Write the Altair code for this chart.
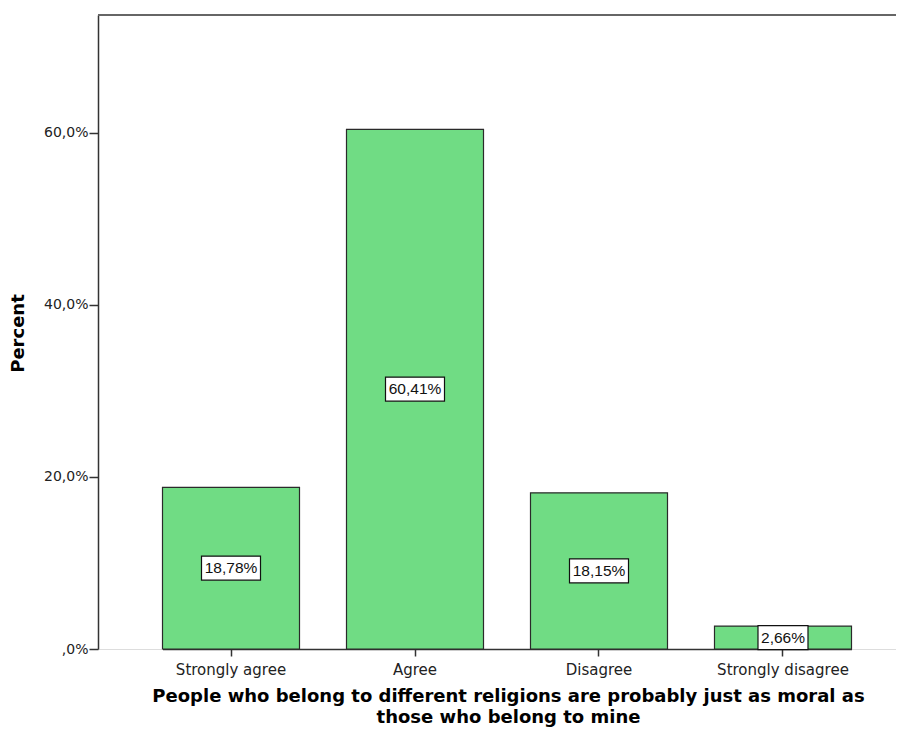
import altair as alt
import pandas as pd

categories = ["Strongly agree", "Agree", "Disagree", "Strongly disagree"]
values = [18.78, 60.41, 18.15, 2.66]
labels = ["18,78%", "60,41%", "18,15%", "2,66%"]
y_ticks = [0, 20, 40, 60]

df = pd.DataFrame({"cat": categories, "val": values, "lab": labels})

FONT = "DejaVu Sans"
W, H = 798, 634

x_enc = alt.X(
    "cat:N",
    sort=categories,
    scale=alt.Scale(range=[64.5, 753.5], paddingInner=0.2554, paddingOuter=0),
    axis=alt.Axis(
        title=["People who belong to different religions are probably just as moral as",
               "those who belong to mine"],
        titleFont=FONT, titleFontSize=18, titleFontWeight="bold", titleColor="#000",
        titleX=410, titleY=52, titleBaseline="alphabetic", titleLineHeight=21,
        titleAlign="center",
        labelFont=FONT, labelFontSize=15, labelColor="#222", labelAngle=0,
        labelPadding=6, tickSize=7, tickColor="#333", domainColor="#333",
        domainWidth=1.5, tickWidth=1.5, labelBaseline="top",
    ),
)

y_scale = alt.Scale(domain=[0, 73.7], nice=False, zero=True)

bars = alt.Chart(df).mark_bar(fill="#70DC84", stroke="#2a2a2a", strokeWidth=1.2).encode(
    x=x_enc,
    y=alt.Y(
        "val:Q",
        scale=y_scale,
        axis=alt.Axis(
            values=y_ticks,
            labelExpr="datum.value == 0 ? ',0%' : replace(format(datum.value, '.1f'), '.', ',') + '%'",
            title="Percent", titleFont=FONT, titleFontSize=18, titleFontWeight="bold",
            titleColor="#000", titleX=-80, titleY=318, titleAngle=-90,
            titleAlign="center", titleBaseline="middle",
            labelFont=FONT, labelFontSize=14, labelColor="#222", labelPadding=1,
            tickSize=9, tickColor="#333", domainColor="#333", grid=False,
            domainWidth=1.5, tickWidth=1.5,
        ),
    ),
)

top_line = alt.Chart(df).transform_filter("datum.cat == 'Agree'").mark_rule(
    color="#666", strokeWidth=2
).encode(x=alt.value(0), x2=alt.value(W), y=alt.value(0))

base = alt.Chart(df).transform_calculate(
    mid="datum.val / 2",
    bw="length(datum.lab) * 9 + 5",
).transform_calculate(
    hh="24 / datum.bw",
).transform_calculate(
    shp="'M-1,' + (-datum.hh) + 'L1,' + (-datum.hh) + 'L1,' + datum.hh + 'L-1,' + datum.hh + 'Z'",
    sz="datum.bw * datum.bw",
)

boxes = base.mark_point(filled=True, fill="white", stroke="#111", strokeWidth=1.2, opacity=1).encode(
    x=alt.X("cat:N", sort=categories),
    y=alt.Y("mid:Q", scale=y_scale),
    shape=alt.Shape("shp:N", scale=None),
    size=alt.Size("sz:Q", scale=None),
)

texts = base.mark_text(font="Liberation Sans", fontSize=15.5, color="#111", align="center",
                       baseline="middle").encode(
    x=alt.X("cat:N", sort=categories),
    y=alt.Y("mid:Q", scale=y_scale),
    text="lab:N",
)

chart = alt.layer(bars, top_line, boxes, texts).properties(
    width=W, height=H,
    autosize=alt.AutoSizeParams(type="none"),
    padding={"left": 90, "top": 7, "right": 0, "bottom": 79},
).configure_view(stroke=None).configure(background="white")

chart.save("out.html", embed_options={"renderer": "svg", "actions": False})
